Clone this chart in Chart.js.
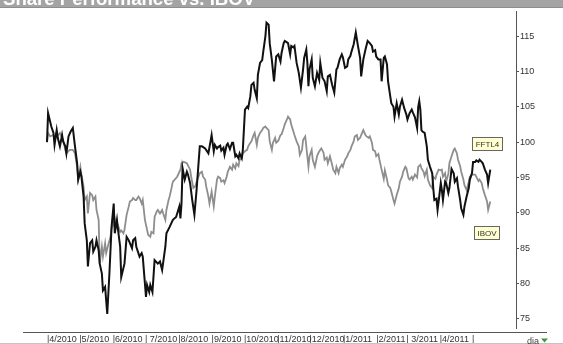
<!DOCTYPE html>
<html><head><meta charset="utf-8">
<script src="https://cdn.jsdelivr.net/npm/chart.js@4/dist/chart.umd.min.js"></script>
<style>
html,body{margin:0;padding:0;background:#fff;overflow:hidden;width:563px;height:344px;}
#wrap{position:absolute;left:0;top:-11px;width:563px;height:355px;}
</style></head><body>
<div id="wrap"><canvas id="c" width="563" height="355"></canvas></div>
<script>
const titleText = 'Share Performance vs. IBOV';
const seriesNames = ['FFTL4', 'IBOV'];
const periodLabel = 'dia';
// x values: calendar days since 2010-04-01
const monthDays = [0, 30, 61, 91, 122, 153, 183, 214, 244, 275, 306, 334, 365, 395];
const monthLabels = ['|4/2010', '|5/2010', '|6/2010', '| 7/2010', '|8/2010', '|9/2010', '|10/2010', '|11/2010', '|12/2010', '|1/2011', '|2/2011', '| 3/2011', '|4/2011', '|'];
const yTickValues = [75, 80, 85, 90, 95, 100, 105, 110, 115];

const fftl4Days = [0,1,4,6,7,9,10,12,14,15,17,18,20,22,24,26,28,29,31,32,34,35,37,38,40,42,43,45,46,48,49,51,52,54,56,58,60,62,63,65,66,68,69,72,74,76,79,80,82,83,86,88,89,92,93,95,96,98,100,103,105,107,110,111,114,117,120,123,124,125,126,128,130,131,133,135,137,139,142,144,147,150,153,155,156,158,159,161,162,164,165,167,168,170,172,173,175,176,178,179,181,182,184,186,187,189,190,192,193,195,196,198,200,201,203,204,206,207,209,211,213,215,217,218,220,221,223,224,226,227,229,230,232,234,236,238,239,241,242,243,244,246,247,249,251,253,254,256,258,260,261,263,265,267,269,270,272,274,275,277,279,280,282,283,285,287,289,291,292,294,296,298,300,302,303,305,306,308,310,311,313,314,316,317,319,320,322,323,325,327,328,330,332,334,335,337,339,340,342,344,345,346,347,348,349,351,353,354,356,358,359,360,362,363,364,366,367,368,370,371,373,374,376,378,379,381,382,384,385,387,388,390,392,393,395,396,398,399,401,402,404,405,407,409,410,412];
const fftl4Values = [100.0,104.1,102.2,101.3,99.6,101.7,100.6,99.4,101.0,100.1,99.4,98.4,100.8,101.5,102.0,99.4,97.0,94.7,95.8,95.1,92.3,88.5,86.1,82.4,85.7,86.1,84.5,85.2,86.1,84.7,82.8,81.4,79.0,79.5,75.7,81.4,88.0,91.3,87.1,89.0,87.6,85.2,80.9,82.8,86.6,86.1,85.0,86.1,86.4,85.2,83.8,84.3,83.8,78.1,79.8,78.8,79.8,78.8,83.3,82.8,83.1,81.9,85.2,87.1,88.0,89.0,89.4,90.9,89.2,91.3,96.3,94.7,95.8,95.4,94.2,91.8,89.7,93.2,99.4,99.4,99.1,98.4,101.0,98.7,99.6,99.1,99.3,99.5,98.8,99.2,98.2,99.6,99.8,99.0,99.9,99.9,98.0,98.2,97.7,98.4,97.7,98.9,104.6,105.0,104.8,106.5,108.1,108.4,107.4,106.2,109.5,111.2,111.6,112.8,115.0,116.9,116.6,114.0,111.6,108.6,112.1,112.4,111.4,112.6,114.0,114.3,114.1,114.0,112.4,113.6,113.4,113.6,111.2,109.8,107.7,110.3,111.9,113.1,111.2,107.9,110.3,111.7,109.1,107.9,109.8,108.8,111.2,109.1,108.6,107.2,109.3,109.5,108.1,107.0,110.3,110.5,111.7,112.4,112.0,110.5,110.7,111.7,112.2,112.8,113.8,115.5,113.6,111.9,109.3,111.7,113.1,114.3,114.0,113.6,112.8,113.0,112.1,111.7,111.7,108.6,111.9,112.1,111.0,108.6,106.5,105.5,105.0,103.6,105.5,103.9,105.0,106.0,104.8,103.9,103.2,104.1,104.6,104.2,103.5,102.0,105.0,105.8,104.6,101.7,101.5,101.3,99.4,97.5,96.5,95.6,93.5,91.8,92.0,90.4,91.6,94.2,93.2,91.8,94.4,94.2,92.8,93.5,96.2,95.6,94.4,94.9,93.7,91.8,90.6,89.7,90.9,92.3,93.5,94.7,95.6,97.2,97.2,97.4,97.2,97.5,97.2,97.0,96.1,95.4,94.2,96.1];

const ibovDays = [0,1,3,6,7,9,10,12,14,15,17,18,21,24,26,28,29,31,32,34,35,37,38,40,42,43,45,46,48,49,51,52,54,55,57,59,60,62,63,65,66,68,69,71,72,74,76,77,79,80,82,83,85,86,88,89,91,93,94,96,97,99,100,102,103,105,107,108,110,111,113,114,116,117,121,124,125,127,130,133,134,136,138,139,142,144,145,147,148,150,151,153,155,156,158,159,161,162,164,165,167,168,170,172,173,175,176,178,179,181,182,184,186,187,189,190,192,193,195,196,198,200,201,203,204,206,207,209,210,212,213,215,217,218,220,221,223,224,226,227,229,230,232,234,235,237,238,240,241,243,244,246,247,249,251,252,254,255,257,258,260,261,263,265,266,268,269,271,272,274,275,277,279,280,282,283,285,286,288,289,291,292,294,296,297,299,300,302,303,305,306,308,309,311,313,314,316,317,319,320,322,323,325,327,328,330,331,333,334,336,337,339,340,342,344,345,347,348,350,351,353,354,356,358,359,361,362,364,366,367,368,370,371,373,374,376,378,379,381,382,384,385,387,388,390,392,393,395,398,401,402,404,405,407,409,410,412];
const ibovValues = [100.0,101.3,100.8,101.0,100.5,101.5,100.9,101.3,100.6,100.3,98.9,98.4,98.9,98.9,98.4,96.5,94.7,96.5,95.4,93.7,91.8,92.3,89.9,92.8,92.5,91.8,92.3,90.4,89.0,82.8,85.2,83.8,85.7,84.3,85.5,86.6,87.8,88.5,89.2,88.0,88.2,87.3,87.5,87.1,87.6,89.7,90.9,91.6,91.8,92.1,91.8,91.8,92.3,92.1,91.3,91.8,89.0,87.6,86.9,86.6,87.3,87.1,89.4,90.2,90.4,89.9,90.4,89.9,89.0,90.4,91.8,92.3,93.7,94.4,95.1,96.1,97.0,97.2,97.0,96.1,95.1,93.5,93.8,94.4,95.6,95.8,95.1,94.7,93.7,92.3,91.3,93.0,90.9,92.3,94.7,95.1,94.9,94.4,94.6,94.2,95.1,95.8,96.5,96.1,96.8,96.3,97.0,96.6,97.5,97.7,98.4,98.7,98.9,99.4,99.9,100.1,101.0,101.3,99.6,100.6,101.3,101.7,102.0,102.2,102.0,101.7,100.1,98.9,99.9,100.6,99.9,100.2,101.0,101.1,102.0,102.5,103.2,103.6,103.2,102.5,101.5,101.0,100.1,99.4,98.2,98.9,100.3,100.8,99.4,96.5,98.0,98.9,97.5,96.5,98.0,98.4,98.9,99.1,98.5,97.5,97.8,97.0,98.0,96.8,96.1,95.6,96.5,95.6,96.3,96.8,96.5,97.5,98.0,98.4,98.9,99.4,100.1,100.8,101.0,100.3,100.6,101.0,101.7,101.0,100.8,100.6,100.8,99.9,98.9,98.7,98.0,98.3,97.5,96.1,94.8,96.0,94.7,93.9,93.5,93.0,91.8,91.3,92.5,93.5,94.4,95.1,95.8,96.5,96.3,94.9,94.7,95.1,94.7,95.4,95.0,96.5,96.8,96.3,95.8,95.2,96.1,94.7,93.9,93.5,95.1,94.8,95.4,96.1,96.0,96.1,95.1,95.6,94.4,95.5,97.0,98.0,98.9,99.1,98.4,97.5,96.6,95.8,94.7,93.9,93.2,94.4,95.1,95.4,95.4,94.5,94.7,94.2,93.5,92.5,91.6,90.4,91.6];

function toPoints(xs, ys) { return xs.map((x, i) => ({ x: x, y: ys[i] })); }

const decor = {
  id: 'decor',
  beforeDraw(chart) {
    const ctx = chart.ctx;
    ctx.save();
    ctx.fillStyle = '#a4a4a4';
    ctx.fillRect(0, 0, chart.width, 19);
    ctx.fillStyle = '#8e8e8e';
    ctx.fillRect(0, 18, chart.width, 1);
    ctx.restore();
  },
  afterDatasetsDraw(chart) {
    const ctx = chart.ctx;
    const ca = chart.chartArea;
    ctx.save();
    // bottom axis line
    ctx.strokeStyle = '#555';
    ctx.lineWidth = 1;
    ctx.beginPath();
    ctx.moveTo(23, ca.bottom + 4.5);
    ctx.lineTo(547, ca.bottom + 4.5);
    ctx.stroke();
    // bottom grey frame line
    ctx.strokeStyle = '#c4c4c4';
    ctx.beginPath();
    ctx.moveTo(0, chart.height - 0.5);
    ctx.lineTo(chart.width, chart.height - 0.5);
    ctx.stroke();
    // end-of-line name labels
    ctx.font = '8px "Liberation Sans", Arial, sans-serif';
    ctx.textBaseline = 'middle';
    ctx.textAlign = 'center';
    const offsets = [[-3, -26], [-4, 31]];
    chart.data.datasets.forEach((ds, i) => {
      const meta = chart.getDatasetMeta(i);
      const last = meta.data[meta.data.length - 1];
      const cx = last.x + offsets[i][0];
      const cy = last.y + offsets[i][1];
      const w = Math.round(ctx.measureText(ds.label).width) + 6;
      const h = 13;
      const x0 = Math.round(cx - w / 2) + 0.5, y0 = Math.round(cy - h / 2) + 0.5;
      ctx.fillStyle = '#ffffd0';
      ctx.fillRect(x0, y0, w, h);
      ctx.strokeStyle = '#666';
      ctx.strokeRect(x0, y0, w, h);
      ctx.fillStyle = '#333';
      ctx.fillText(ds.label, x0 + w / 2, y0 + h / 2 + 0.5);
    });
    // period selector
    ctx.textAlign = 'left';
    ctx.font = '9px "Liberation Sans", Arial, sans-serif';
    ctx.fillStyle = '#444';
    ctx.fillText(periodLabel, 527, ca.bottom + 13.5);
    ctx.fillStyle = '#3a9a3a';
    ctx.beginPath();
    ctx.moveTo(541, ca.bottom + 10.5);
    ctx.lineTo(548, ca.bottom + 10.5);
    ctx.lineTo(544.5, ca.bottom + 14.5);
    ctx.closePath();
    ctx.fill();
    ctx.restore();
  }
};

new Chart(document.getElementById('c'), {
  type: 'line',
  data: {
    datasets: [
      { label: seriesNames[0], data: toPoints(fftl4Days, fftl4Values), borderColor: '#111', borderWidth: 2, pointRadius: 0, tension: 0, fill: false },
      { label: seriesNames[1], data: toPoints(ibovDays, ibovValues), borderColor: '#8e8e8e', borderWidth: 1.8, pointRadius: 0, tension: 0, fill: false }
    ]
  },
  options: {
    responsive: false,
    animation: false,
    events: [],
    layout: { padding: { left: 3, right: 0, top: 0, bottom: 0 } },
    plugins: {
      legend: { display: false },
      tooltip: { enabled: false },
      title: {
        display: true, text: titleText, align: 'start', color: '#ffffff',
        font: { family: '"Liberation Sans", Arial, sans-serif', size: 18.6, weight: 'bold', lineHeight: 1.2 },
        padding: { top: 0, bottom: 0 }
      }
    },
    scales: {
      x: {
        type: 'linear', min: -40.9, max: 435.9,
        grid: { display: false, drawTicks: false, tickLength: 0 },
        border: { display: false },
        afterBuildTicks(scale) { scale.ticks = monthDays.map(v => ({ value: v })); },
        afterFit(scale) { scale.height = 16; },
        ticks: {
          autoSkip: false, maxRotation: 0, minRotation: 0, align: 'start', padding: 6.5,
          color: '#333', font: { family: '"Liberation Sans", Arial, sans-serif', size: 9 },
          callback: (v, i) => monthLabels[i]
        }
      },
      y: {
        type: 'linear', position: 'right', min: 73.7, max: 118.5,
        afterBuildTicks(scale) { scale.ticks = yTickValues.map(v => ({ value: v })); },
        afterFit(scale) { scale.width = 47; },
        grid: { display: true, drawOnChartArea: false, drawTicks: true, tickLength: 3, color: '#555' },
        border: { display: true, color: '#555', width: 1 },
        ticks: { padding: 1, color: '#333', font: { family: '"Liberation Sans", Arial, sans-serif', size: 9 } }
      }
    }
  },
  plugins: [decor]
});
</script>
</body></html>
